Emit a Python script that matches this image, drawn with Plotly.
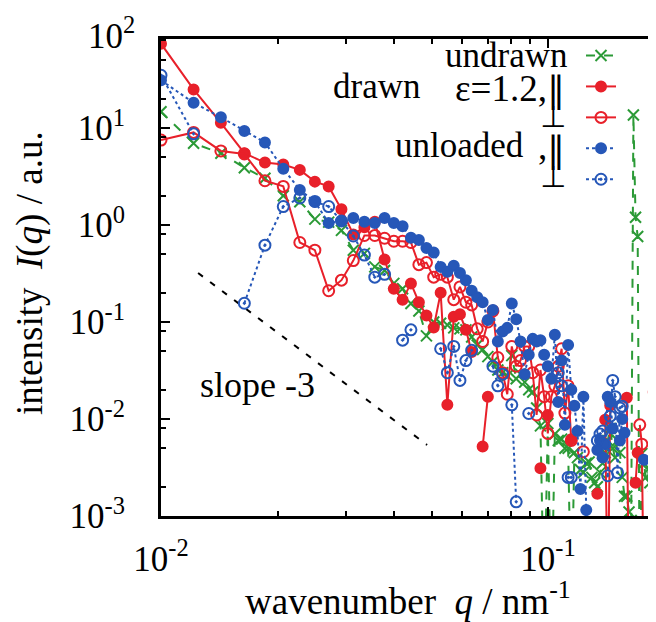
import plotly.graph_objects as go

N = None
LOW = 1e-4  # values below the visible range (lines run off the bottom)

q = [0.01000, 0.01214, 0.01428, 0.01642, 0.01856, 0.02070, 0.02284, 0.02498, 0.02712, 0.02926,
     0.03140, 0.03354, 0.03568, 0.03782, 0.03996, 0.04210, 0.04424, 0.04638, 0.04852, 0.05066,
     0.05280, 0.05494, 0.05708, 0.05922, 0.06136, 0.06350, 0.06564, 0.06778, 0.06992, 0.07206,
     0.07420, 0.07634, 0.07848, 0.08062, 0.08276, 0.08490, 0.08704, 0.08918, 0.09132, 0.09346,
     0.09560, 0.09774, 0.09988, 0.10202, 0.10416, 0.10630, 0.10844, 0.11058, 0.11272, 0.11486,
     0.11700, 0.11914, 0.12128, 0.12342, 0.12556, 0.12770, 0.12984, 0.13198, 0.13412, 0.13626,
     0.13840, 0.14054, 0.14268, 0.14482, 0.14696, 0.14910, 0.15124, 0.15338, 0.15552, 0.15766,
     0.15980, 0.16194, 0.16408, 0.16622, 0.16836, 0.17050, 0.17264, 0.17478, 0.17692, 0.17906,
     0.18120, 0.18334, 0.18548, 0.18762, 0.18976]

undrawn = [14.7, 6.95, 5.5, 3.9, 3.03, 2.0, 1.74, 1.15, 1.07, 0.88,
           0.55, 0.51, 0.37, 0.34, 0.25, 0.22, 0.155, 0.13, 0.072, 0.10,
           0.097, 0.093, 0.087, 0.085, 0.083, 0.07, 0.058, 0.052, 0.044, 0.039,
           0.032, 0.030, 0.028, 0.045, 0.026, 0.029, 0.024, 0.020, 0.019, 0.013,
           0.0085, LOW, 0.009, LOW, 0.007, 0.006, 0.0062, 0.005, 0.005, LOW,
           0.0045, 0.004, 0.003, 0.0028, 0.0035, 0.0036, 0.0025, 0.0022, 0.0020, 0.0028,
           0.0035, 0.0045, 0.006, 0.008, 0.005, 0.004, 0.006, 0.0045, 0.0025, 0.0016,
           0.0016, 0.0011, 0.0009, 13.6, 1.2, 0.76, LOW, 0.0044, 0.0035, 0.0025,
           0.003, 0.0022, 0.0028, 0.002, 0.0025]

drawn_par = [74, 25, 11.3, 5.5, 4.4, 4.2, 3.7, 2.8, 2.5, 1.45,
             0.8, 0.95, 1.08, 0.44, 0.22, 0.17, 0.25, 0.16, 0.117, 0.088,
             0.2, 0.014, 0.113, 0.12, 0.083, 0.049, N, 0.0052, 0.017, N,
             N, N, N, N, N, N, N, N, N, N,
             0.0031, N, 0.011, N, N, N, N, N, N, 0.0062,
             N, N, N, N, N, N, N, N, 0.0017, N,
             N, 0.0098, LOW, 0.0138, N, N, N, N, N, N,
             0.0166, LOW, N, N, 0.0022, 0.0045, N, N, N, N,
             N, N, LOW, 0.019, 0.0066]

drawn_perp = [7.5, 9.0, 5.8, 5.4, 2.86, 2.5, 0.66, 0.55, 0.21, 0.27,
              0.43, 0.78, 0.78, 0.73, 0.68, 0.68, 0.66, 0.39, 0.41, 0.29,
              0.31, 0.29, 0.17, 0.23, 0.16, 0.15, 0.085, 0.063, 0.10, 0.13,
              0.043, 0.03, 0.018, 0.056, 0.035, 0.04, 0.056, 0.056, 0.03, 0.011,
              0.032, 0.017, 0.0071, 0.017, 0.022, 0.035, 0.053, 0.0115, 0.022, 0.006,
              N, N, N, 0.0046, N, N, N, N, N, N,
              N, N, N, N, N, N, N, N, N, N,
              N, N, N, N, N, N, 0.0087, 0.0055, LOW, N,
              N, N, N, N, N]

unloaded_par = [31, 18.2, 12.9, 9.3, 7.1, 3.8, 2.3, 1.74, 1.05, 1.1,
                1.18, 1.08, 1.05, 1.18, 1.05, 0.97, 0.74, 0.70, 0.58, 0.52,
                0.37, 0.33, 0.38, 0.32, 0.27, 0.21, 0.18, 0.16, 0.105, 0.133,
                0.063, 0.08, 0.087, 0.155, 0.107, 0.063, 0.029, 0.046, 0.067, 0.063,
                0.065, 0.046, 0.035, 0.026, 0.074, 0.015, 0.04, 0.0087, 0.058, 0.02,
                0.0137, 0.0075, 0.0019, 0.017, 0.00115, N, N, N, 0.0048, 0.006,
                0.004, 0.0055, 0.017, 0.015, 0.008, N, N, 0.006, 0.01, 0.0072,
                N, N, N, N, N, N, N, N, 0.0038, N,
                N, N, N, N, 0.011]

unloaded_perp = [35, 8.7, N, 0.156, 0.62, 1.55, 1.9, 1.75, 1.55, 1.1,
                 0.77, 0.49, 0.29, 0.31, N, 0.065, 0.083, N, N, N,
                 0.053, 0.03, 0.056, 0.025, 0.04, 0.051, N, N, N, 0.035,
                 0.022, 0.029, N, 0.014, 0.0014, N, N, 0.0114, N, N,
                 N, N, N, N, N, 0.03, 0.022, N, 0.0025, 0.0025,
                 N, N, N, N, N, N, N, N, 0.006, 0.007,
                 0.0075, N, 0.0026, 0.0107, 0.025, 0.017, 0.0028, 0.013, 0.0135, N,
                 N, N, N, N, N, N, N, N, N, N,
                 N, N, N, N, N]

slope_q = [0.01247, 0.0487]
slope_I = [0.32, 0.0054]

x_ticks = [0.01, 0.1]
x_ticktext = ["10<sup>-2</sup>", "10<sup>-1</sup>"]
x_minor = [0.02, 0.03, 0.04, 0.05, 0.06, 0.07, 0.08, 0.09, 0.2]
y_ticks = [1e-3, 1e-2, 1e-1, 1e0, 1e1]
y_ticktext = ["10<sup>-3</sup>", "10<sup>-2</sup>", "10<sup>-1</sup>", "10<sup>0</sup>",
              "10<sup>1</sup>"]
y_top_label = "10<sup>2</sup>"
y_minor = [m * 10.0 ** e for e in range(-3, 2) for m in (2, 5, 8)]

GREEN = "#2b9a36"
RED = "#e8202a"
BLUE = "#2657b8"
SERIF = "Liberation Serif, Times New Roman, serif"

# the figure sits 8 px from the page's top-left corner (default body margin)
OFF = 8
W, H = 656, 622
DEC = 97.0                # pixels per decade on the y axis
L, T = 161, 39            # plot-area left/top on the screen
PW, PH = 495, 477         # plot-area size
ml, mt = L - OFF, T - OFF
mr = W - ml - PW
mb = H - mt - PH
YR = [-3, -3 + PH / DEC]

fig = go.Figure()

fig.add_trace(go.Scatter(x=slope_q, y=slope_I, mode="lines", showlegend=False,
                         line=dict(color="black", width=2, dash="6px,9px"), hoverinfo="skip"))

series = [
    (undrawn, GREEN, "dash", "x-thin", 11, "undrawn"),
    (drawn_par, RED, "solid", "circle", 10, "drawn ε=1.2, ∥"),
    (drawn_perp, RED, "solid", "circle-open", 11, "drawn ε=1.2, ⊥"),
    (unloaded_par, BLUE, "dot", "circle", 10, "unloaded, ∥"),
    (unloaded_perp, BLUE, "dot", "circle-open-dot", 11, "unloaded, ⊥"),
]
for vals, col, dash, sym, size, nm in series:
    fig.add_trace(go.Scatter(
        x=q, y=vals, mode="lines+markers", name="", legendgroup=nm, hovertext=nm,
        line=dict(color=col, width=2, dash=dash),
        marker=dict(symbol=sym, size=size, color=col, line=dict(color=col, width=2)),
        connectgaps=False))

def px(xs):
    return (xs - L) / PW

def py(ys):
    return 1 - (ys - T) / PH

ann = []
def label(text, xs, ys, xanchor, size=35, family=SERIF, **kw):
    ann.append(dict(text=text, x=px(xs), y=py(ys), xref="paper", yref="paper",
                    xanchor=xanchor, yanchor="middle", showarrow=False,
                    font=dict(family=family, size=size, color="black"), **kw))

# key labels (text to the left of each key sample, as in the original)
label("undrawn", 569, 55, "right")
label("drawn", 331, 87, "left")
label("ε=1.2,", 549, 88, "right", size=37)
label("‖", 556, 89, "center", size=36, family="DejaVu Serif")
label("⊥", 553, 116, "center", size=30, family="DejaVu Sans")
label("unloaded", 526, 145, "right")
label(",", 549, 147, "right", size=37)
label("‖", 556, 149, "center", size=36, family="DejaVu Serif")
label("⊥", 553, 177, "center", size=30, family="DejaVu Sans")
label("slope -3", 198, 385, "left", size=36)
label("wavenumber  <i>q</i> / nm<sup>-1</sup>", 408, 598, "center", size=37)
label("intensity  <i>I</i>(<i>q</i>) / a.u.", 30, 273, "center", size=37, textangle=-90)
label(y_top_label, 137, 33, "right", size=35)

axis_common = dict(
    type="log", showline=True, linecolor="black", linewidth=3,
    ticks="inside", ticklen=9, tickwidth=2, tickcolor="black",
    showgrid=False, zeroline=False, ticklabeloverflow="allow",
    tickfont=dict(family=SERIF, size=35, color="black"),
)
minor_common = dict(ticks="inside", ticklen=5, tickwidth=2, tickcolor="black", showgrid=False)

fig.update_layout(
    width=W, height=H,
    margin=dict(l=ml, r=mr, t=mt, b=mb, autoexpand=False),
    paper_bgcolor="white", plot_bgcolor="white",
    xaxis=dict(range=[-2, -2 + PW / 387.0], tickvals=x_ticks, ticktext=x_ticktext,
               mirror="allticks", ticklabelstandoff=10,
               minor=dict(tickvals=x_minor, **minor_common), **axis_common),
    yaxis=dict(range=YR, tickvals=y_ticks, ticktext=y_ticktext, mirror=False,
               ticklabelstandoff=26, minor=dict(tickvals=y_minor, **minor_common),
               **axis_common),
    legend=dict(x=px(581), y=py(35), xanchor="left", yanchor="top",
                bgcolor="rgba(0,0,0,0)", borderwidth=0, itemwidth=30,
                font=dict(family=SERIF, size=21.5), tracegroupgap=0),
    annotations=ann,
    showlegend=True,
)

fig.write_html("out.html", config={"displayModeBar": False})
